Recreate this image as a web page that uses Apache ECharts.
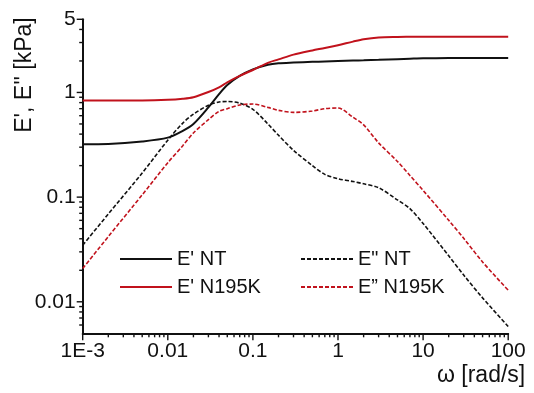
<!DOCTYPE html>
<html>
<head>
<meta charset="utf-8">
<script src="https://cdn.jsdelivr.net/npm/echarts@6/dist/echarts.min.js"></script>
<style>
  html, body { margin: 0; padding: 0; background: #fff; }
  #chart { width: 534px; height: 393px; }
</style>
</head>
<body>
<div id="chart"></div>
<script>
// angular frequency (rad/s)
const omega = [0.001, 0.002, 0.005, 0.01, 0.015, 0.02, 0.03, 0.04, 0.05, 0.07, 0.1, 0.15, 0.2, 0.3, 0.5, 0.7, 1, 1.5, 2, 3, 5, 7, 10, 20, 30, 50, 100];

// moduli in kPa
const storageNT = [0.32, 0.322, 0.34, 0.37, 0.43, 0.5, 0.72, 0.965, 1.18, 1.44, 1.66, 1.84, 1.9, 1.93, 1.96, 1.98, 2.0, 2.02, 2.03, 2.05, 2.08, 2.1, 2.12, 2.13, 2.13, 2.13, 2.13];
const storageN195K = [0.84, 0.84, 0.84, 0.85, 0.87, 0.9, 1.01, 1.12, 1.25, 1.44, 1.64, 1.92, 2.07, 2.3, 2.52, 2.66, 2.83, 3.06, 3.22, 3.35, 3.39, 3.4, 3.41, 3.41, 3.41, 3.41, 3.41];
const lossNT = [0.0347, 0.069, 0.17, 0.35, 0.51, 0.62, 0.755, 0.81, 0.82, 0.79, 0.69, 0.5, 0.39, 0.28, 0.2, 0.165, 0.15, 0.141, 0.134, 0.123, 0.094, 0.0776, 0.056, 0.0275, 0.018, 0.0109, 0.0058];
const lossN195K = [0.0208, 0.042, 0.105, 0.213, 0.31, 0.41, 0.55, 0.66, 0.7, 0.76, 0.775, 0.72, 0.675, 0.645, 0.665, 0.7, 0.71, 0.58, 0.49, 0.33, 0.219, 0.161, 0.116, 0.06, 0.0404, 0.024, 0.0129];

// axis ranges and ticks
const xRange = [0.001, 100];
const yRange = [0.005, 5];
const xMajor = [0.001, 0.01, 0.1, 1, 10, 100];
const xLabels = ['1E-3', '0.01', '0.1', '1', '10', '100'];
const yMajor = [0.01, 0.1, 1, 5];
const yLabels = ['0.01', '0.1', '1', '5'];
const xMinor = [];
[0.001, 0.01, 0.1, 1, 10].forEach((d) => {
  for (let k = 2; k <= 9; k++) xMinor.push(d * k);
});
const yMinor = [0.006, 0.007, 0.008, 0.009, 2, 3, 4];
[0.01, 0.1].forEach((d) => {
  for (let k = 2; k <= 9; k++) yMinor.push(d * k);
});

const FONT = '"Liberation Sans", Arial, sans-serif';
const INK = '#111';
const RED = '#c1121c';
const lg = Math.log10;
const pairs = (ys) => omega.map((w, i) => [w, ys[i]]);
const labelFor = (vals, labels) => (v) => {
  const i = vals.findIndex((m) => Math.abs(lg(m) - v) < 1e-6);
  return i < 0 ? '' : labels[i];
};

const chart = echarts.init(document.getElementById('chart'), null, { renderer: 'canvas' });

const makeSeries = (name, ys, color, dashed) => ({
  name,
  type: 'line',
  xAxisIndex: 0,
  yAxisIndex: 0,
  symbol: 'none',
  smooth: 0.3,
  lineStyle: {
    color,
    width: dashed ? 1.6 : 2,
    type: dashed ? [4, 2] : 'solid',
  },
  itemStyle: { color },
  data: pairs(ys),
});

// outward tick marks: a thin bar symbol at each tick value on the axis,
// shifted half its length outside the plot
const tickSeries = (values, len, horizontal) => ({
  type: 'scatter',
  xAxisIndex: 0,
  yAxisIndex: 0,
  clip: false,
  silent: true,
  z: 5,
  symbol: 'rect',
  symbolSize: horizontal ? [1.4, len] : [len, 1.4],
  symbolOffset: horizontal ? [0, len / 2] : [-len / 2, 0],
  itemStyle: { color: INK, opacity: 1 },
  emphasis: { disabled: true },
  data: values.map((v) => (horizontal ? [v, yRange[0]] : [xRange[0], v])),
});

const legendBase = {
  orient: 'vertical',
  padding: 0,
  itemGap: 8,
  itemWidth: 52,
  itemHeight: 14,
  itemStyle: { opacity: 0, borderWidth: 0 },
  textStyle: { fontFamily: FONT, fontSize: 20, color: INK, lineHeight: 20 },
};

chart.setOption({
  animation: false,
  backgroundColor: '#fff',
  grid: { left: 82.7, right: 25.8, top: 19.3, bottom: 59.7 },
  legend: [
    { ...legendBase, left: 119, top: 249, data: ["E' NT", "E' N195K"] },
    { ...legendBase, left: 300, top: 249, data: ['E" NT', 'E\u201D N195K'] },
  ],
  xAxis: [
    {
      type: 'log',
      logBase: 10,
      min: xRange[0],
      max: xRange[1],
      name: '\u03C9 [rad/s]',
      nameLocation: 'end',
      nameGap: 17,
      nameTextStyle: {
        fontFamily: FONT, fontSize: 23, color: INK,
        align: 'right', verticalAlign: 'top', padding: [31, 0, 0, 0],
      },
      axisLine: { onZero: false, lineStyle: { color: INK, width: 2 } },
      axisTick: { show: false },
      axisLabel: { show: false },
      splitLine: { show: false },
    },
    {
      type: 'value',
      min: lg(xRange[0]),
      max: lg(xRange[1]),
      position: 'bottom',
      axisLine: { show: false, onZero: false },
      axisTick: { show: false },
      axisLabel: {
        show: true,
        customValues: xMajor.map(lg),
        margin: 7,
        fontFamily: FONT, fontSize: 21, color: INK,
        formatter: labelFor(xMajor, xLabels),
      },
      splitLine: { show: false },
    },
  ],
  yAxis: [
    {
      type: 'log',
      logBase: 10,
      min: yRange[0],
      max: yRange[1],
      axisLine: { show: true, onZero: false, lineStyle: { color: INK, width: 2 } },
      axisTick: { show: false },
      axisLabel: { show: false },
      splitLine: { show: false },
    },
    {
      type: 'value',
      min: lg(yRange[0]),
      max: lg(yRange[1]),
      position: 'left',
      axisLine: { show: false, onZero: false },
      axisTick: { show: false },
      axisLabel: {
        show: true,
        customValues: yMajor.map(lg),
        margin: 7,
        fontFamily: FONT, fontSize: 21, color: INK,
        formatter: labelFor(yMajor, yLabels),
      },
      splitLine: { show: false },
    },
  ],
  graphic: [
    {
      type: 'text',
      x: 25,
      y: 75,
      rotation: Math.PI / 2,
      style: {
        text: "E', E'' [kPa]",
        font: '23px ' + FONT,
        fill: INK,
        textAlign: 'center',
        textVerticalAlign: 'middle',
      },
    },
  ],
  series: [
    makeSeries("E' NT", storageNT, INK, false),
    makeSeries("E' N195K", storageN195K, RED, false),
    makeSeries('E" NT', lossNT, INK, true),
    makeSeries('E\u201D N195K', lossN195K, RED, true),
    tickSeries(xMajor, 7, true),
    tickSeries(xMinor, 4, true),
    tickSeries(yMajor, 6, false),
    tickSeries(yMinor, 3.5, false),
  ],
});
</script>
</body>
</html>
